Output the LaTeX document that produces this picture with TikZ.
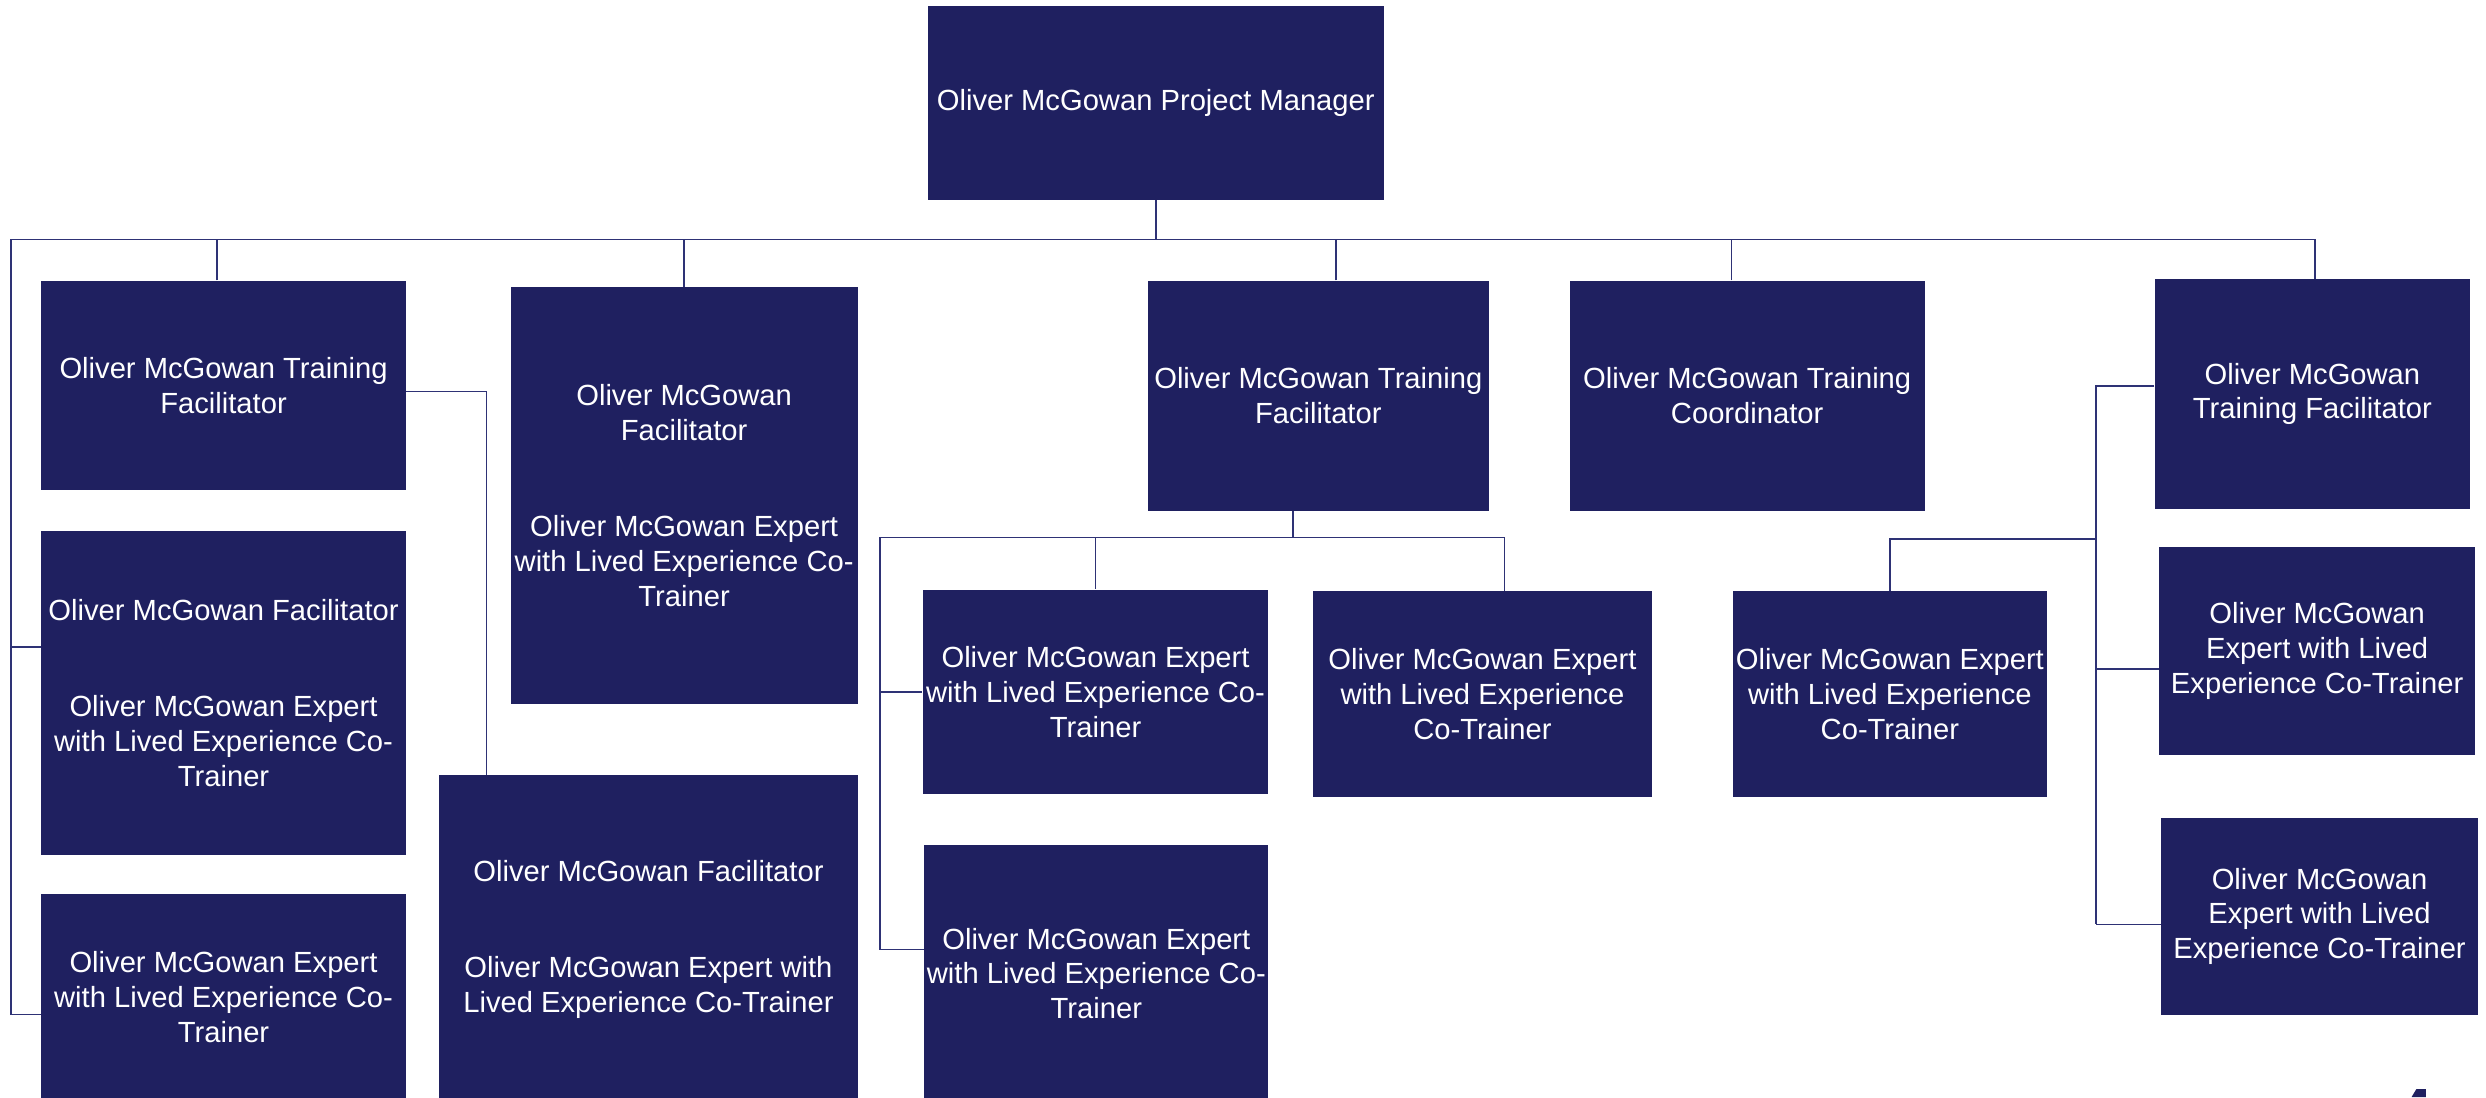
\documentclass[tikz,border=0pt]{standalone}
\usepackage{fontspec}
\setmainfont{Liberation Sans}
\usepackage{xcolor}
\definecolor{chartNavy}{HTML}{1F2060}
\definecolor{lineNavy}{HTML}{2E3275}
\usepackage{tikz}
\usetikzlibrary{positioning}
\tikzset{
    % Role boxes - flat navy rectangle, white text
    role/.style={
        rectangle,
        fill=chartNavy,
        text=white,
        align=center,
        inner sep=0pt,
        font=\fontsize{18.4}{22}\selectfont,
    },
    % Box size in picture units
    sz/.style 2 args={
        minimum width=#1pt,
        minimum height=#2pt,
    },
    % Org chart connector lines
    link/.style={
        draw=lineNavy,
        line width=1pt,
    },
}

\begin{document}
\begin{tikzpicture}[x=1pt, y=-1pt]
    \useasboundingbox (0,0) rectangle (1568,692);
    \clip (0,0) rectangle (1568,692);

    \node (pm) [role, sz={288}{122}] at (729,65) {Oliver McGowan Project Manager};

    \node (trainFacA) [role, sz={230}{132}] at (141,243) {Oliver McGowan Training\\Facilitator};
    \node (facExpA) [role, sz={230}{204}] at (141,437) {Oliver McGowan Facilitator\\[39pt]Oliver McGowan Expert\\with Lived Experience Co-\\Trainer};
    \node (expertA) [role, sz={230}{130}] at (141,629) {Oliver McGowan Expert\\with Lived Experience Co-\\Trainer};

    \node (facExpB) [role, sz={219}{263}] at (431.5,312.5) {Oliver McGowan\\Facilitator\\[39pt]Oliver McGowan Expert\\with Lived Experience Co-\\Trainer};
    \node (facExpC) [role, sz={264}{207}] at (409,592.5) {Oliver McGowan Facilitator\\[39pt]Oliver McGowan Expert with\\Lived Experience Co-Trainer};

    \node (trainFacB) [role, sz={215}{145}] at (831.5,249.5) {Oliver McGowan Training\\Facilitator};
    \node (expertB) [role, sz={218}{129}] at (691,436.5) {Oliver McGowan Expert\\with Lived Experience Co-\\Trainer};
    \node (expertC) [role, sz={214}{130}] at (935,438) {Oliver McGowan Expert\\with Lived Experience\\Co-Trainer};
    \node (expertD) [role, sz={217}{162}] at (691.5,614) {Oliver McGowan Expert\\with Lived Experience Co-\\Trainer};

    \node (coord) [role, sz={224}{145}] at (1102,249.5) {Oliver McGowan Training\\Coordinator};

    \node (trainFacC) [role, sz={199}{145}] at (1458.5,248.5) {Oliver McGowan\\Training Facilitator};
    \node (expertE) [role, sz={198}{130}] at (1192,438) {Oliver McGowan Expert\\with Lived Experience\\Co-Trainer};
    \node (expertF) [role, sz={199}{131}] at (1461.5,410.5) {Oliver McGowan\\Expert with Lived\\Experience Co-Trainer};
    \node (expertG) [role, sz={200}{124}] at (1463,578) {Oliver McGowan\\Expert with Lived\\Experience Co-Trainer};

    % bus ends
    \coordinate (busL) at (7,151);
    \coordinate (busR) at (1460,151);
    \coordinate (busC) at (555,339);
    \coordinate (busE) at (1322,340);
    \coordinate (stubC) at ([xshift=14pt]expertC.north);

    \draw [link] (busL) -- (busR);
    \draw [link] (pm.south) -- (pm.south |- busL);
    \draw [link] ([xshift=-4pt]trainFacA.north) -- ([xshift=-4pt]trainFacA.north |- busL);
    \draw [link] (facExpB.north) -- (facExpB.north |- busL);
    \draw [link] ([xshift=11pt]trainFacB.north) -- ([xshift=11pt]trainFacB.north |- busL);
    \draw [link] ([xshift=-10pt]coord.north) -- ([xshift=-10pt]coord.north |- busL);
    \draw [link] (busR) -- (busR |- trainFacC.north);

    \draw [link] (busL) |- ([yshift=29pt]facExpA.west);
    \draw [link] (busL) |- ([yshift=-11pt]expertA.west);
    \draw [link] ([yshift=-4pt]trainFacA.east) -| ([xshift=30pt]facExpC.north west);

    \draw [link] ([xshift=-16pt]trainFacB.south) -- ([xshift=-16pt]trainFacB.south |- busC);
    \draw [link] (busC) -| (stubC);
    \draw [link] (expertB.north |- busC) -- (expertB.north);
    \draw [link] (busC) |- (expertB.west);
    \draw [link] (busC) |- ([yshift=15pt]expertD.west);

    \draw [link] ([yshift=5pt]trainFacC.west) -| ([yshift=-5pt]expertG.west -| busE);
    \draw [link] ([yshift=-11.5pt]expertF.west) -- ([yshift=-11.5pt]expertF.west -| busE);
    \draw [link] ([yshift=-5pt]expertG.west) -- ([yshift=-5pt]expertG.west -| busE);
    \draw [link] (busE) -| (expertE.north);

    \fill [chartNavy] (1521,692) -- (1524,687) -- (1530,687) -- (1530,692) -- cycle;
\end{tikzpicture}
\end{document}
